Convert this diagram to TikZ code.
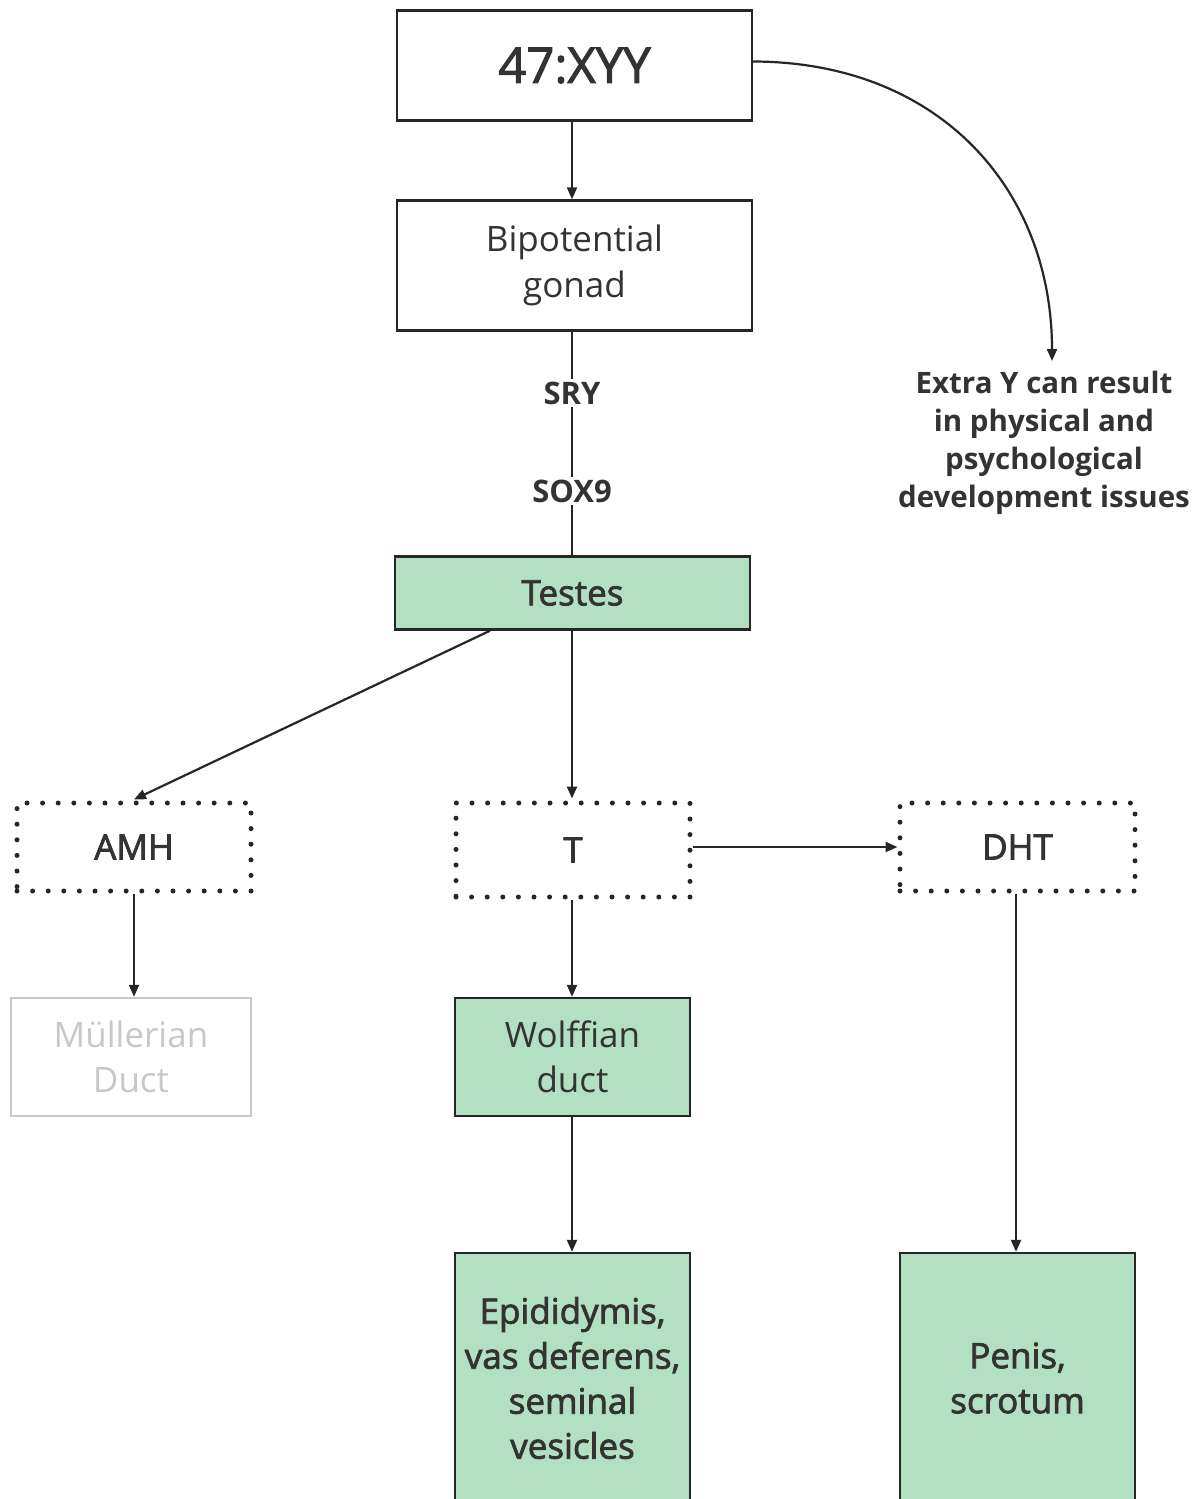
\documentclass[tikz,border=0pt]{standalone}
\usepackage{fontspec}
\setmainfont{Open Sans}
\newfontfamily\semifont[FakeBold=2.2]{Open Sans}
\usetikzlibrary{arrows.meta}
\definecolor{ink}{HTML}{333333}
\definecolor{edge}{HTML}{262626}
\definecolor{leaf}{HTML}{B3E0C3}
\definecolor{faded}{HTML}{C8C8C8}
\begin{document}
\begin{tikzpicture}[x=1pt,y=-1pt,
  box/.style={draw=edge, line width=2.4pt, align=center, text=ink, inner sep=0pt},
  greenbox/.style={box, fill=leaf},
  dotbox/.style={draw=edge, line width=5pt, line cap=round,
    dash pattern=on 0pt off 15.6pt, align=center, text=ink, inner sep=0pt},
  fadedbox/.style={draw=faded, line width=2.4pt, align=center, text=faded, inner sep=0pt},
  link/.style={draw=edge, line width=2.2pt, -{Triangle[length=12pt,width=10pt]}},
  plain/.style={draw=edge, line width=2.2pt},
  tag/.style={fill=white, text=ink, inner sep=3pt, font=\bfseries\fontsize{31}{36}\selectfont}]
\useasboundingbox (0,0) rectangle (1203,1499);
\fill[white] (0,0) rectangle (1203,1499);

% main chain
\node[box, minimum width=355pt, minimum height=110pt,
  font=\semifont\fontsize{49}{58}\selectfont] (xyy) at (574.5,65.5) {47:XYY};
\node[box, minimum width=355pt, minimum height=130pt,
  font=\fontsize{35}{46}\selectfont] (bip) at (574.5,265.5) {Bipotential\\gonad};
\node[greenbox, minimum width=355pt, minimum height=73pt,
  font=\semifont\fontsize{35}{44}\selectfont] (testes) at (572.5,593) {Testes};

% hormones
\node[dotbox, minimum width=234pt, minimum height=88pt,
  font=\semifont\fontsize{35}{44}\selectfont] (amh) at (134,847) {AMH};
\node[dotbox, minimum width=234pt, minimum height=94pt,
  font=\semifont\fontsize{35}{44}\selectfont] (t) at (573,850) {T};
\node[dotbox, minimum width=235pt, minimum height=88pt,
  font=\semifont\fontsize{35}{44}\selectfont] (dht) at (1017.5,847) {DHT};

% ducts and structures
\node[fadedbox, minimum width=240pt, minimum height=118pt,
  font=\fontsize{35}{45}\selectfont] (mull) at (131,1057) {Müllerian\\Duct};
\node[greenbox, minimum width=235pt, minimum height=118pt,
  font=\fontsize{35}{45}\selectfont] (wolff) at (572.5,1057) {Wolffian\\duct};
\node[greenbox, minimum width=235pt, minimum height=250pt,
  font=\semifont\fontsize{35}{45}\selectfont] (epi) at (572.5,1378)
  {Epididymis,\\vas deferens,\\seminal\\vesicles};
\node[greenbox, minimum width=235pt, minimum height=250pt,
  font=\semifont\fontsize{35}{45}\selectfont] (pen) at (1017.5,1378)
  {Penis,\\scrotum};

% side note
\node[text=ink, align=center, inner sep=0pt,
  font=\bfseries\fontsize{29.5}{38}\selectfont] (extra) at (1044,443)
  {Extra Y can result\\in physical and\\psychological\\development issues};
\coordinate (noteend) at (1052,361);

% connectors
\draw[link] (xyy.south -| 572,0) -- (bip.north -| 572,0);
\draw[plain] (bip.south -| 572,0) -- (testes.north -| 572,0);
\node[tag] (sry) at (572,393) {SRY};
\node[tag] (sox) at (572,491) {SOX9};
\draw[link] (testes.south -| 490,0) -- ([yshift=1pt]amh.north);
\draw[link] (testes.south -| 572,0) -- ([yshift=2pt]t.north -| 572,0);
\draw[link] (t.east |- dht.west) -- (dht.west);
\draw[link] (amh.south) -- ([xshift=3pt]mull.north);
\draw[link] (t.south -| 572,0) -- (wolff.north -| 572,0);
\draw[link] (wolff.south -| 572,0) -- (epi.north -| 572,0);
\draw[link] (dht.south -| 1016,0) -- (pen.north -| 1016,0);
\draw[link] ([yshift=4pt]xyy.east) .. controls (940,62) and (1052,190) .. (noteend);
\end{tikzpicture}
\end{document}
